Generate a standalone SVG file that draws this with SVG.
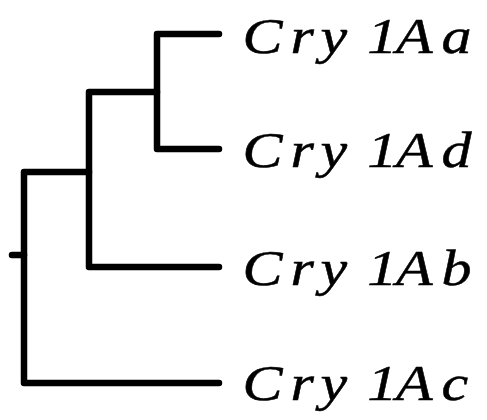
<svg xmlns="http://www.w3.org/2000/svg" width="487" height="420" viewBox="0 0 487 420">
<style>
.br{fill:none;stroke:#000;stroke-width:6.5;stroke-linecap:round;stroke-linejoin:round}
.lb{font-family:"Liberation Serif",serif;font-style:italic;font-size:50px;fill:#000;stroke:#000;stroke-width:0.5}
</style>
<rect width="487" height="420" fill="#fff"/>
<g id="connectors">
<path class="br" d="M219 34 H157 V149 H219"/>
<path class="br" d="M157 92 H89 V267 H219"/>
<path class="br" d="M89 172 H24 V383 H219"/>
<path class="br" d="M12 255 H24"/>
</g>
<g id="Cry1Aa"><text class="lb" transform="translate(0 53) scale(1.2 1)" x="202 242 267 306 330 368" y="0">Cry1Aa</text></g>
<g id="Cry1Ad"><text class="lb" transform="translate(0 167) scale(1.2 1)" x="202 242 267 306 330 368" y="0">Cry1Ad</text></g>
<g id="Cry1Ab"><text class="lb" transform="translate(0 285) scale(1.2 1)" x="202 242 267 306 330 368" y="0">Cry1Ab</text></g>
<g id="Cry1Ac"><text class="lb" transform="translate(0 400) scale(1.2 1)" x="202 242 267 306 330 368" y="0">Cry1Ac</text></g>
</svg>
